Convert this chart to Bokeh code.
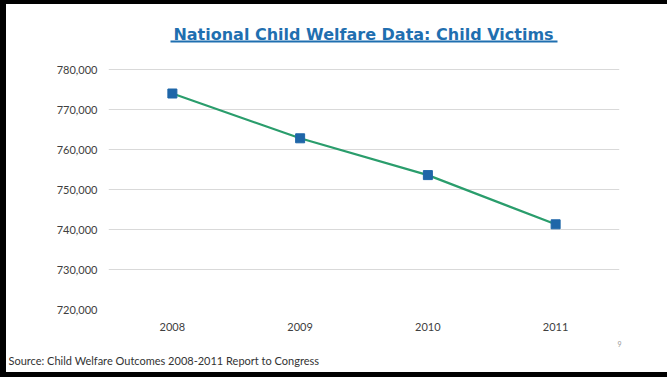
from bokeh.plotting import figure
from bokeh.models import (Range1d, FixedTicker, NumeralTickFormatter, Label, BoxAnnotation,
                          ColumnDataSource, Title, InlineStyleSheet)
from bokeh.embed import file_html
from bokeh.resources import INLINE

years = ["2008", "2009", "2010", "2011"]
victims = [774000, 762800, 753600, 741300]
y_ticks = [720000, 730000, 740000, 750000, 760000, 770000, 780000]

title_text = "National Child Welfare Data: Child Victims"
source_text = "Source: Child Welfare Outcomes 2008-2011 Report to Congress"
page_text = "9"

W, H = 667, 377
# frame position in picture pixels
FL, FR_X, FT, FBY = 108, 619, 22, 309
Y0, Y1, Y1_PX = 720000, 780000, 69
upp = (Y1 - Y0) / (FBY - Y1_PX)          # data units per pixel
y_top = Y1 + (Y1_PX - FT) * upp          # extend range up to hold the title

def sx(cx):
    return cx - FL

def sy(cy):
    return FBY - cy

p = figure(width=W, height=H, x_range=years, y_range=Range1d(Y0, y_top),
           output_backend="svg", toolbar_location=None,
           min_border_left=FL, min_border_right=W - FR_X,
           min_border_top=FT, min_border_bottom=H - FBY)
# slide frame: black edges on left, top and bottom, drawn as an overlay on the window
p.stylesheets = [InlineStyleSheet(css="""
:host { overflow: hidden; }
:host::after { content: ""; position: fixed; left: 0; top: 0; right: 0; bottom: 0;
  box-sizing: border-box; border-left: 6px solid #000; border-top: 4px solid #000;
  border-bottom: 5px solid #000; pointer-events: none; z-index: 10; }
""")]
p.outline_line_color = None
p.background_fill_color = "white"
p.border_fill_color = "white"

src = ColumnDataSource(dict(x=years, y=victims))
p.line("x", "y", source=src, line_color="#2a9d6c", line_width=2.2)
p.scatter("x", "y", source=src, marker="square", size=9, fill_color="#1f66a8", line_color="#1f66a8")

p.xgrid.grid_line_color = None
p.ygrid.grid_line_color = "#d9d9d9"
p.ygrid.grid_line_width = 1

p.yaxis.ticker = FixedTicker(ticks=y_ticks)
p.yaxis.formatter = NumeralTickFormatter(format="0,0")
for ax in (p.xaxis[0], p.yaxis[0]):
    ax.axis_line_color = None
    ax.major_tick_line_color = None
    ax.minor_tick_line_color = None
    ax.major_tick_out = 0
    ax.major_tick_in = 0
    ax.minor_tick_out = 0
    ax.major_label_text_font = "Lato"
    ax.major_label_text_font_size = "11px"
    ax.major_label_text_color = "#404040"
p.yaxis.major_label_standoff = 11
p.xaxis.major_label_standoff = 13

# title with underline (inside the frame's upper band)
p.add_layout(Label(x=sx(363), y=sy(34), x_units="screen", y_units="screen", text=title_text,
                   text_align="center", text_baseline="alphabetic",
                   text_font="DejaVu Sans", text_font_style="bold", text_font_size="16px",
                   text_color="#1f6fb0"))
p.add_layout(BoxAnnotation(left=sx(170), right=sx(557), bottom=sy(42), top=sy(40),
                           left_units="screen", right_units="screen",
                           bottom_units="screen", top_units="screen",
                           fill_color="#1f6fb0", fill_alpha=1, line_color=None))

# page number and source below the axis
p.add_layout(Title(text=page_text, align="right", offset=-2, standoff=10,
                   text_font="Lato", text_font_size="7px", text_font_style="normal",
                   text_color="#999999"), "below")
p.add_layout(Title(text=source_text, align="left", offset=-(FL - 8), standoff=0,
                   text_font="Lato", text_font_size="11px", text_font_style="normal",
                   text_color="#333333"), "below")

open("out.html", "w").write(file_html(p, INLINE))
